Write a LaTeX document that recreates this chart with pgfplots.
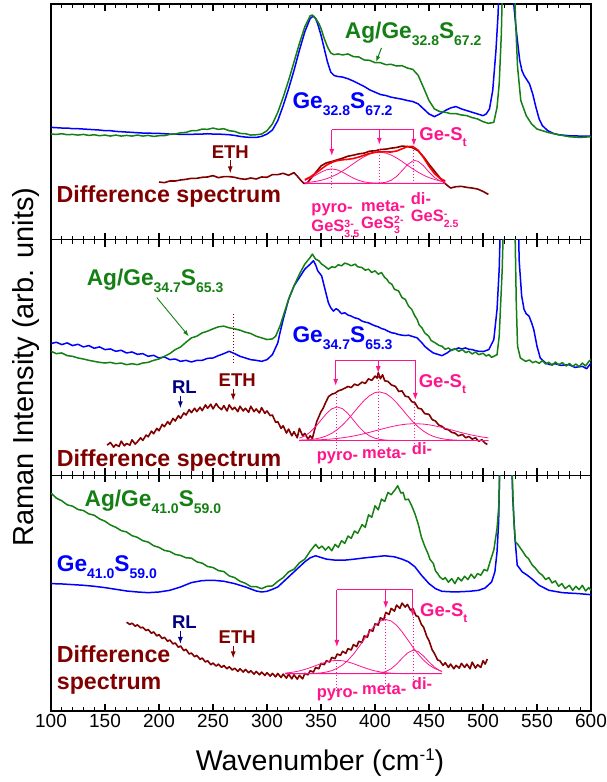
\documentclass[border=0pt]{standalone}
\usepackage{fontspec}
\setmainfont{Liberation Sans}
\usepackage{pgfplots}
\pgfplotsset{compat=1.18}
\usetikzlibrary{arrows.meta}
\definecolor{cblue}{RGB}{0,0,255}
\definecolor{cgreen}{RGB}{20,128,20}
\definecolor{cbrown}{RGB}{128,0,0}
\definecolor{cpink}{RGB}{255,20,140}
\definecolor{cnavy}{RGB}{0,0,128}
\newcommand{\fs}[1]{\fontsize{#1bp}{#1bp}\selectfont}
\newcommand{\msub}[1]{\raisebox{-7bp}{\fs{14}#1}}
\newcommand{\psub}[1]{\raisebox{-5.5bp}{\fs{10.5}#1}}
\newcommand{\psup}[1]{\raisebox{4.5bp}{\fs{10.5}#1}}
\newcommand{\main}{\fs{22.7}\bfseries}
\newcommand{\pk}{\fs{16.5}\bfseries}
\newcommand{\GeSt}{\fs{18.5}\bfseries Ge-S\raisebox{-6bp}{\fs{12}t}}
\pgfplotsset{panel/.style={
  scale only axis, width=540bp, height=235.67bp,
  xmin=100, xmax=600, ymin=0, ymax=703,
  xtick={100,150,...,600}, minor x tick num=4,
  ytick=\empty, minor ytick={25,80,134,189,243,298,352,407,461,516,570,625,679},
  tick align=inside, xtick pos=both, ytick pos=both,
  major tick length=7bp, minor tick length=4bp,
  axis line style={line width=1.3bp},
  every tick/.style={black, line width=1.1bp},
  every minor tick/.style={black, line width=0.9bp},
  anchor=south west,
  /pgf/number format/assume math mode=true,
  xticklabel style={font=\fs{19}},
}}
\tikzset{
  bl/.style={cblue, line width=1.5bp, line join=round},
  gr/.style={cgreen, line width=1.5bp, line join=round},
  df/.style={cbrown, line width=1.6bp, line join=round},
  fit/.style={cpink, line width=0.8bp},
  pa/.style={cpink, line width=1bp, -{Latex[length=7bp,width=5bp]}},
  ba/.style={cbrown, line width=1bp, -{Latex[length=7bp,width=5bp]}},
  na/.style={cnavy, line width=1bp, -{Latex[length=7bp,width=5bp]}},
}
\begin{document}
\begin{tikzpicture}
\useasboundingbox (-51bp,-71bp) rectangle (556bp,711bp);
% ================= Panel 1 =================
\begin{axis}[panel, at={(0bp,471.33bp)}, xticklabels={}]
\addplot[bl] coordinates {(100,335)(105,334)(110,333)(115,333)(120,331)(125,331)(130,330)(135,329)(140,328)(145,327)(150,325)(155,325)(160,323)(165,322)(170,321)(175,320)(180,319)(185,318)(190,318)(195,317)(200,317)(205,316)(210,315)(215,315)(220,314)(225,314)(230,314)(235,315)(240,315)(245,316)(250,315)(255,315)(260,314)(265,313)(270,311)(275,308)(280,306)(285,305)(290,305)(295,308)(300,315)(305,327)(310,355)(315,400)(320,450)(325,505)(330,565)(335,620)(340,660)(343,667)(345,660)(347,643)(350,610)(353,570)(356,530)(359,500)(362,490)(365,487)(370,485)(375,480)(380,473)(385,465)(390,457)(395,447)(400,440)(405,433)(410,430)(415,425)(420,422)(425,419)(430,415)(435,412)(440,405)(445,390)(450,375)(455,367)(460,375)(465,385)(470,393)(475,397)(480,390)(485,385)(490,380)(495,375)(500,370)(503,375)(506,390)(509,445)(512,565)(514,675)(516,900)(521,3000)(526,900)(528,720)(530,650)(532,590)(534,535)(536,505)(538,490)(540,480)(543,465)(546,435)(549,395)(552,360)(555,340)(560,325)(565,317)(570,313)(580,310)(590,309)(600,309)};
\addplot[gr] coordinates {(100,315)(105,314)(110,316)(115,313)(120,314)(125,312)(130,314)(135,311)(140,313)(145,310)(150,312)(155,309)(160,312)(165,309)(170,311)(175,309)(180,312)(185,309)(190,311)(195,308)(200,310)(205,310)(210,314)(215,315)(220,319)(225,320)(230,325)(235,325)(240,330)(245,329)(250,333)(255,329)(260,331)(265,325)(270,323)(275,317)(280,316)(285,312)(290,313)(295,315)(300,325)(305,345)(310,380)(315,425)(320,475)(325,530)(330,585)(335,635)(340,668)(342,670)(345,660)(348,645)(350,630)(353,600)(356,575)(359,557)(362,552)(366,554)(370,551)(375,554)(380,546)(385,545)(390,536)(395,535)(400,528)(405,528)(410,522)(415,523)(420,518)(425,519)(430,512)(435,508)(440,490)(445,453)(450,415)(455,390)(460,382)(465,380)(470,376)(475,376)(480,372)(485,370)(490,364)(495,360)(500,352)(505,347)(510,350)(513,395)(515,465)(517,615)(519,900)(523,3000)(528,900)(530,665)(532,515)(535,415)(540,370)(545,345)(550,330)(555,325)(560,320)(570,313)(580,307)(590,305)(600,307)};
\addplot[df] coordinates {(200,172)(205,170)(210,175)(215,175)(220,178)(225,180)(230,183)(235,183)(240,186)(245,187)(250,191)(255,185)(260,188)(265,188)(270,186)(275,182)(280,180)(285,184)(290,181)(295,187)(300,186)(305,194)(310,194)(315,198)(320,192)(325,200)(328,190)(331,178)(334,168)(337,168)(340,180)(345,200)(350,220)(355,229)(360,233)(365,238)(370,243)(375,249)(380,252)(385,256)(390,258)(395,264)(400,265)(405,269)(410,270)(415,273)(420,275)(425,279)(430,278)(435,274)(440,265)(445,247)(450,225)(455,205)(460,185)(465,167)(470,154)(475,158)(480,159)(485,156)(490,154)(495,151)(500,144)(505,135)};
% fit components
\addplot[fit] coordinates {(335,168)(465,168)};
\addplot[fit] coordinates {(335,176.7)(340,183.5)(345,192.2)(350,201.3)(355,208.3)(360,211)(365,208.3)(370,201.3)(375,192.2)(380,183.5)(385,176.7)(390,172.3)(395,169.9)(400,168.7)(405,168.2)(410,168)(465,168)};
\addplot[fit] coordinates {(335,170.1)(340,171.5)(345,173.7)(350,177.0)(355,181.6)(360,187.8)(365,195.5)(370,204.9)(375,215.4)(380,226.7)(385,237.7)(390,247.5)(395,255.2)(400,259.8)(404,261)(410,258.4)(415,252.4)(420,243.8)(425,233.4)(430,222.1)(435,211.1)(440,201.0)(445,192.2)(450,185.1)(455,179.6)(460,175.6)(465,172.7)};
\addplot[fit] coordinates {(335,168)(395,168)(400,168.2)(405,169)(410,171.3)(415,177.2)(420,188.6)(425,205.5)(430,223.5)(435,234.9)(437,236)(440,233.5)(445,220.2)(450,201.8)(455,185.8)(460,175.6)(465,170.7)};
\addplot[red, line width=1.6bp] coordinates {(335,178.8)(340,187.0)(345,197.9)(350,210.3)(355,221.9)(360,230.8)(365,235.8)(370,238.2)(375,239.6)(380,242.2)(385,246.4)(390,251.8)(395,257.1)(400,260.7)(405,262.2)(410,261.7)(415,261.6)(420,264.4)(425,270.9)(430,277.6)(435,278.0)(440,266.5)(445,244.4)(450,218.9)(455,197.4)(460,183.2)(465,175.4)};
\draw[cpink, line width=1bp, dotted] (axis cs:360,155) -- (axis cs:360,235);
\draw[cpink, line width=1bp, dotted] (axis cs:404,168) -- (axis cs:404,270);
\draw[cpink, line width=1bp, dotted] (axis cs:436,165) -- (axis cs:436,275);
\draw[cpink, line width=1bp] (axis cs:360,328) -- (axis cs:436,328);
\draw[pa] (axis cs:360,328) -- (axis cs:360,250);
\draw[pa] (axis cs:404,328) -- (axis cs:404,283);
\draw[pa] (axis cs:436,328) -- (axis cs:436,280);
\node[anchor=base west, inner sep=0, cpink] at (axis cs:341,81) {\pk pyro-};
\node[anchor=base west, inner sep=0, cpink] at (axis cs:341,24) {\pk GeS\rlap{\psup{3-}}\psub{3.5}};
\node[anchor=base west, inner sep=0, cpink] at (axis cs:387,84) {\pk meta-};
\node[anchor=base west, inner sep=0, cpink] at (axis cs:387,34) {\pk GeS\rlap{\psup{2-}}\psub{3}};
\node[anchor=base west, inner sep=0, cpink] at (axis cs:433,104) {\pk di-};
\node[anchor=base west, inner sep=0, cpink] at (axis cs:433,54) {\pk GeS\rlap{\psup{-}}\psub{2.5}};
\node[anchor=base west, inner sep=0, cpink] at (axis cs:441,295) {\GeSt};
\node[anchor=base west, inner sep=0, cgreen] at (axis cs:372,600) {\main Ag/Ge\msub{32.8}S\msub{67.2}};
\draw[cgreen, line width=1bp, -{Latex[length=6bp,width=4.5bp]}] (axis cs:406,572) -- (axis cs:401,530);
\node[anchor=base west, inner sep=0, cblue] at (axis cs:323.5,390) {\main Ge\msub{32.8}S\msub{67.2}};
\node[anchor=base, inner sep=0, cbrown] at (axis cs:266,243) {\fs{18.5}\bfseries ETH};
\draw[ba] (axis cs:266,237) -- (axis cs:266,198);
\node[anchor=base west, inner sep=0, cbrown] at (axis cs:105,110) {\fs{23.2}\bfseries Difference spectrum};
\end{axis}
% ================= Panel 2 =================
\begin{axis}[panel, at={(0bp,235.67bp)}, xticklabels={}]
\addplot[bl] coordinates {(100,393)(105,397)(110,390)(115,395)(120,387)(125,391)(130,383)(135,387)(140,379)(145,383)(150,375)(155,377)(160,370)(165,373)(170,365)(175,368)(180,361)(185,363)(190,355)(195,358)(200,350)(205,353)(210,345)(215,347)(220,340)(225,343)(230,338)(235,343)(240,343)(245,349)(250,350)(255,357)(260,363)(265,370)(270,363)(275,355)(280,350)(285,345)(290,343)(295,340)(300,345)(305,360)(310,395)(312,425)(315,465)(320,525)(325,565)(330,590)(335,615)(340,630)(343,640)(345,628)(347,610)(350.6,595)(353.7,555)(356.8,515)(359,500)(361.5,490)(364,497)(366,493)(369,482)(372,485)(375,478)(378,475)(381,470)(384.7,467)(388,460)(391,457)(394,455)(397,450)(400,446)(403,443)(406,438)(409,435)(412,430)(415.6,425)(418,424)(421.8,420)(425,418)(428,417)(431,418)(434,415)(437,412)(439,410)(443.5,395)(446,385)(449.7,375)(454,365)(459,360)(462,357)(466.7,365)(471,375)(474,376)(477.5,380)(480,377)(483.7,380)(487,376)(490,375)(493,372)(496,370)(501,370)(505.4,375)(510,405)(513,495)(515,615)(516.5,800)(524,5000)(532.5,800)(533.5,640)(535.8,535)(538,495)(540,482)(542.6,475)(545,455)(547,435)(550,385)(553,350)(558,335)(562,330)(567,333)(572,328)(579.7,330)(585,322)(592,325)(596,318)(600,335)};
\addplot[gr] coordinates {(100,370)(105,363)(110,365)(115,357)(120,355)(125,350)(130,347)(135,343)(140,340)(145,337)(150,335)(155,337)(160,333)(165,335)(170,330)(175,333)(180,330)(185,335)(190,337)(195,343)(200,347)(205,355)(210,363)(215,375)(220,383)(225,397)(230,410)(235,415)(240,425)(245,430)(250,437)(255,443)(260,445)(265,440)(270,437)(275,433)(280,427)(285,423)(290,415)(295,410)(300,405)(305,407)(308,415)(312,445)(315,475)(320,525)(325,565)(330,600)(335,630)(340,650)(342,660)(345,645)(348,640)(350.6,630)(353,625)(356.8,615)(360,622)(363,620)(366,628)(369,625)(372,633)(375,630)(378,625)(381.6,630)(384,622)(387.8,620)(391,612)(394,615)(397,605)(400,610)(403,600)(406,605)(409,590)(411,585)(413,575)(415.6,570)(418,555)(421.8,550)(425,530)(428,525)(431,505)(434,495)(437,475)(439,465)(441,448)(443.5,440)(446,425)(449.7,415)(452,402)(455.9,395)(459,388)(462,385)(465,376)(468,380)(471,372)(474,378)(477.5,370)(481,375)(484,366)(486.8,370)(490,362)(493,368)(496,360)(500,364)(503,356)(505.4,360)(508,352)(510,355)(513,360)(515,415)(517.8,615)(519,760)(524.5,4000)(529.5,760)(530.8,515)(532,385)(534.6,350)(537,345)(539.5,340)(543,344)(546,336)(548.8,340)(552,334)(555,342)(558,332)(561,337)(564,328)(567,338)(570,330)(573.5,336)(577,326)(580,334)(583,325)(586,332)(589,324)(592,335)(595,326)(598,340)(600,345)};
\addplot[df] coordinates {(152,90)(155,98)(158,84)(160,92)(163,86)(165,102)(168,88)(170,95)(173,90)(175,106)(178,93)(180,100)(183,112)(185,104)(188,120)(190,115)(193,132)(195,124)(198,140)(200,133)(203,152)(205,145)(208,160)(210,152)(213,170)(215,162)(218,178)(220,170)(223,186)(225,180)(228,196)(230,187)(233,200)(235,190)(238,203)(240,193)(243,210)(245,200)(248,212)(250,198)(253,214)(255,204)(258,196)(260,208)(263,192)(265,210)(268,196)(270,203)(273,190)(275,206)(278,192)(280,200)(283,188)(285,206)(288,190)(290,198)(293,186)(295,202)(298,185)(300,192)(303,178)(305,180)(308,158)(310,160)(313,140)(315,148)(318,126)(320,138)(323,118)(325,130)(328,112)(330,140)(333,118)(335,125)(338,108)(340,118)(342,110)(344,135)(346,160)(348,175)(350,190)(352,200)(354,215)(357,235)(360,242)(363,245)(366,252)(369,255)(372,260)(375,265)(378,262)(381,272)(384,268)(388,278)(391,274)(394,288)(397,283)(400,296)(402,290)(403,306)(405,288)(407,300)(409,282)(412,280)(415,270)(419,265)(422,250)(425,252)(428,236)(431,234)(434,220)(437,216)(440,200)(443,198)(446,184)(450,182)(453,166)(456,162)(459,150)(462,146)(465,138)(468,136)(471,128)(474,126)(477,118)(481,122)(484,112)(487,116)(490,108)(493,112)(496,102)(499,106)(502,96)(504,92)};
\addplot[fit] coordinates {(330,104)(505,104)};
\addplot[fit] coordinates {(330,110.6)(335,117.5)(340,128.9)(345,145.1)(350,164.7)(355,184.1)(360,198.6)(365,204)(370,198.6)(375,184.1)(380,164.7)(385,145.1)(390,128.9)(395,117.5)(400,110.6)(405,106.9)(410,105.1)(415,104.4)(420,104)(505,104)};
\addplot[fit] coordinates {(330,104.7)(335,105.3)(340,106.5)(345,108.7)(350,112.1)(355,117.5)(360,125.4)(365,136.3)(370,150.3)(375,167.2)(380,186.1)(385,205.5)(390,223.5)(395,237.8)(400,246.7)(404,249)(410,243.9)(415,232.6)(420,216.6)(425,197.8)(430,178.4)(435,160.1)(440,144.3)(445,131.6)(450,121.9)(455,115.1)(460,110.6)(465,107.7)(470,106.0)(475,105.0)(480,104.5)(485,104.2)(490,104)(505,104)};
\addplot[fit] coordinates {(330,104.5)(335,104.7)(340,105.1)(345,105.6)(350,106.3)(355,107.2)(360,108.4)(365,110.0)(370,112.0)(375,114.4)(380,117.3)(385,120.6)(390,124.3)(395,128.3)(400,132.6)(405,136.9)(410,141.1)(415,145.0)(420,148.4)(425,151.1)(430,153.0)(435,153.9)(440,153.8)(445,152.7)(450,150.7)(455,147.8)(460,144.3)(465,140.3)(470,136.1)(475,131.7)(480,127.5)(485,123.5)(490,119.9)(495,116.7)(500,113.9)(505,111.6)};
\draw[cpink, line width=1bp, dotted] (axis cs:364.6,80) -- (axis cs:364.6,245);
\draw[cpink, line width=1bp, dotted] (axis cs:403,85) -- (axis cs:403,300);
\draw[cpink, line width=1bp, dotted] (axis cs:437,75) -- (axis cs:437,225);
\draw[cpink, line width=1bp] (axis cs:363.6,343) -- (axis cs:437.3,343);
\draw[pa] (axis cs:363.6,343) -- (axis cs:363.6,267);
\draw[pa] (axis cs:403,343) -- (axis cs:403,305);
\draw[pa] (axis cs:437.3,343) -- (axis cs:437.3,225);
\node[anchor=base west, inner sep=0, cpink] at (axis cs:440.4,263) {\GeSt};
\node[anchor=base west, inner sep=0, cpink] at (axis cs:346,45) {\pk pyro-};
\node[anchor=base west, inner sep=0, cpink] at (axis cs:388,50) {\pk meta-};
\node[anchor=base west, inner sep=0, cpink] at (axis cs:434,62) {\pk di-};
\node[anchor=base west, inner sep=0, cgreen] at (axis cs:133,565) {\main Ag/Ge\msub{34.7}S\msub{65.3}};
\draw[cgreen, line width=0.9bp, -{Latex[length=6bp,width=4.5bp]}] (axis cs:198,530) -- (axis cs:227.5,415);
\draw[cbrown, line width=1bp, dotted] (axis cs:269.3,335) -- (axis cs:269.3,485);
\node[anchor=base west, inner sep=0, cblue] at (axis cs:323.5,397) {\main Ge\msub{34.7}S\msub{65.3}};
\node[anchor=base, inner sep=0, cnavy] at (axis cs:223.5,245) {\fs{18.5}\bfseries RL};
\draw[na] (axis cs:219.8,237) -- (axis cs:219.8,200);
\node[anchor=base, inner sep=0, cbrown] at (axis cs:272.4,265) {\fs{18.5}\bfseries ETH};
\draw[ba] (axis cs:268.7,257) -- (axis cs:268.7,223);
\node[anchor=base west, inner sep=0, cbrown] at (axis cs:105.3,25) {\fs{23.2}\bfseries Difference spectrum};
\end{axis}
% ================= Panel 3 =================
\begin{axis}[panel, at={(0bp,0bp)}]
\addplot[bl] coordinates {(100,380)(110,379)(120,377)(130,375)(140,372)(150,368)(160,363)(170,358)(180,355)(190,353)(200,355)(210,360)(220,370)(230,383)(240,389)(250,390)(260,387)(270,380)(280,370)(290,358)(295,355)(300,357)(305,363)(310,370)(315,385)(320,400)(325,415)(330,430)(335,445)(340,457)(345,463)(350,458)(355,453)(363,450)(372,450)(381,453)(391,457)(400,460)(409,463)(418,460)(425,453)(431,445)(437,430)(443,405)(450,380)(456,365)(462,357)(474,355)(487,357)(496,360)(502,367)(508,385)(511,415)(513,475)(514.5,565)(515.6,760)(521,5000)(526.5,760)(527.5,640)(529.6,515)(531.7,435)(536.3,415)(541,405)(545.7,393)(552,375)(561,360)(573.5,353)(589,350)(600,347)};
\addplot[gr] coordinates {(100,650)(105,635)(110,627)(115,615)(120,611)(125,601)(130,598)(135,588)(140,584)(145,573)(150,566)(155,555)(160,548)(165,538)(170,534)(175,523)(180,518)(185,508)(190,504)(195,493)(200,488)(205,479)(210,476)(215,467)(220,464)(225,457)(230,456)(235,445)(240,441)(245,431)(250,428)(255,419)(260,416)(265,403)(270,398)(275,387)(280,381)(285,371)(290,371)(295,365)(300,372)(305,373)(310,387)(315,398)(320,415)(325,423)(330,442)(335,453)(340,477)(345,497)(348,485)(351,492)(354,480)(357,490)(360,478)(363,497)(366,488)(369,508)(372,500)(375,522)(378,515)(381,537)(384,530)(388,556)(391,548)(394,585)(397,578)(400,612)(403,600)(406,632)(409,625)(412,652)(415,645)(419,662)(421,672)(424,650)(426,652)(428,630)(431,632)(434,612)(437,588)(440,558)(443,518)(446,492)(449,470)(451,452)(454,440)(456,418)(458,410)(460,400)(463,392)(465,398)(468,384)(471,395)(474,380)(477,398)(480,388)(483,402)(486,392)(489,408)(492,396)(495,410)(498,405)(501,422)(504,418)(507,450)(510,480)(513,545)(514.7,615)(515.8,750)(521,5000)(526.5,750)(528.6,565)(530,505)(532,498)(534.8,485)(537,475)(539.5,462)(542,455)(545.7,435)(548,428)(552,412)(555,405)(558,392)(561,398)(564,382)(567,388)(570,372)(573,380)(576,365)(580,375)(583,360)(586,372)(589,362)(592,375)(595,358)(598,368)(600,360)};
\addplot[df] coordinates {(170,265)(173,258)(175,262)(178,253)(180,257)(183,248)(185,250)(188,240)(190,243)(193,232)(195,236)(198,224)(200,228)(203,216)(205,220)(208,208)(210,212)(213,200)(215,203)(218,190)(220,194)(223,180)(225,184)(228,170)(230,173)(233,162)(235,166)(238,154)(240,158)(243,146)(245,150)(248,138)(250,143)(253,134)(255,140)(258,130)(260,136)(263,126)(265,132)(268,122)(270,128)(273,118)(275,126)(278,116)(280,124)(283,114)(285,120)(288,110)(290,118)(293,108)(295,116)(298,106)(300,114)(303,104)(305,112)(308,102)(310,112)(313,100)(315,110)(318,98)(320,110)(323,96)(325,108)(328,95)(330,106)(333,96)(335,112)(338,108)(340,120)(343,116)(345,130)(348,126)(350,142)(353,138)(355,150)(358,146)(360,160)(363,156)(365,170)(368,166)(370,178)(373,172)(375,186)(378,182)(380,198)(383,192)(385,208)(388,204)(390,224)(393,220)(395,242)(398,238)(400,260)(403,256)(405,278)(408,272)(410,294)(413,288)(415,306)(418,298)(420,316)(423,306)(425,322)(428,310)(430,318)(433,300)(435,306)(438,284)(440,282)(443,258)(445,250)(448,222)(450,210)(453,182)(455,172)(458,152)(460,150)(463,136)(465,144)(468,130)(470,140)(473,126)(475,136)(478,128)(480,142)(483,130)(485,140)(488,126)(490,146)(493,128)(495,138)(498,130)(500,150)(502,140)(504,155)};
\addplot[fit] coordinates {(317,111)(462,111)};
\addplot[fit] coordinates {(317,113.2)(320,114.2)(325,116.4)(330,119.6)(335,124.0)(340,129.3)(345,135.3)(350,141.2)(355,146.3)(360,149.8)(365,151)(370,149.8)(375,146.3)(380,141.2)(385,135.3)(390,129.3)(395,124.0)(400,119.6)(405,116.4)(410,114.2)(415,112.8)(420,111.9)(425,111.4)(430,111.2)(435,111)(462,111)};
\addplot[fit] coordinates {(317,111)(330,111.1)(335,111.3)(340,111.6)(345,112.3)(350,113.7)(355,116.2)(360,120.5)(365,127.3)(370,137.4)(375,151.4)(380,169.4)(385,190.8)(390,213.9)(395,236.5)(400,255.6)(405,268.5)(410,273)(415,268.5)(420,255.6)(425,236.5)(430,213.9)(435,190.8)(440,169.4)(445,151.4)(450,137.4)(455,127.3)(460,120.5)(462,118.5)};
\addplot[fit] coordinates {(317,111)(390,111)(395,111.2)(400,111.8)(405,113.5)(410,117.7)(415,126.1)(420,139.8)(425,157)(430,172.8)(435,180.8)(436,181)(440,177.2)(445,163.8)(450,146.4)(455,131)(460,120.5)(462,117.7)};
\draw[cpink, line width=1bp, dotted] (axis cs:364.5,61) -- (axis cs:364.5,151);
\draw[cpink, line width=1bp, dotted] (axis cs:410,71) -- (axis cs:410,291);
\draw[cpink, line width=1bp, dotted] (axis cs:436,75) -- (axis cs:436,281);
\draw[cpink, line width=1bp] (axis cs:364.7,361) -- (axis cs:435,361);
\draw[pa] (axis cs:364.7,361) -- (axis cs:364.7,191);
\draw[pa] (axis cs:410,361) -- (axis cs:410,306);
\draw[pa] (axis cs:435,361) -- (axis cs:435,281);
\node[anchor=base west, inner sep=0, cpink] at (axis cs:441.7,281) {\GeSt};
\node[anchor=base west, inner sep=0, cpink] at (axis cs:346,40) {\pk pyro-};
\node[anchor=base west, inner sep=0, cpink] at (axis cs:388,50) {\pk meta-};
\node[anchor=base west, inner sep=0, cpink] at (axis cs:434,63) {\pk di-};
\node[anchor=base west, inner sep=0, cgreen] at (axis cs:131,610) {\main Ag/Ge\msub{41.0}S\msub{59.0}};
\node[anchor=base west, inner sep=0, cblue] at (axis cs:105.3,415) {\main Ge\msub{41.0}S\msub{59.0}};
\node[anchor=base, inner sep=0, cnavy] at (axis cs:223.5,245) {\fs{18.5}\bfseries RL};
\draw[na] (axis cs:219.8,240) -- (axis cs:219.8,200);
\node[anchor=base, inner sep=0, cbrown] at (axis cs:272.4,200) {\fs{18.5}\bfseries ETH};
\draw[ba] (axis cs:268.7,195) -- (axis cs:268.7,157);
\node[anchor=base west, inner sep=0, cbrown] at (axis cs:105.3,145) {\fs{23.2}\bfseries Difference};
\node[anchor=base west, inner sep=0, cbrown] at (axis cs:105.3,65) {\fs{23.2}\bfseries spectrum};
\end{axis}
\node[anchor=base, inner sep=0] at (269bp,-59bp) {\fs{28.5}Wavenumber (cm\raisebox{10bp}{\fs{17}-1})};
\node[rotate=90, anchor=base, inner sep=0] at (-18bp,344bp) {\fs{29}Raman Intensity (arb. units)};
\end{tikzpicture}
\end{document}
